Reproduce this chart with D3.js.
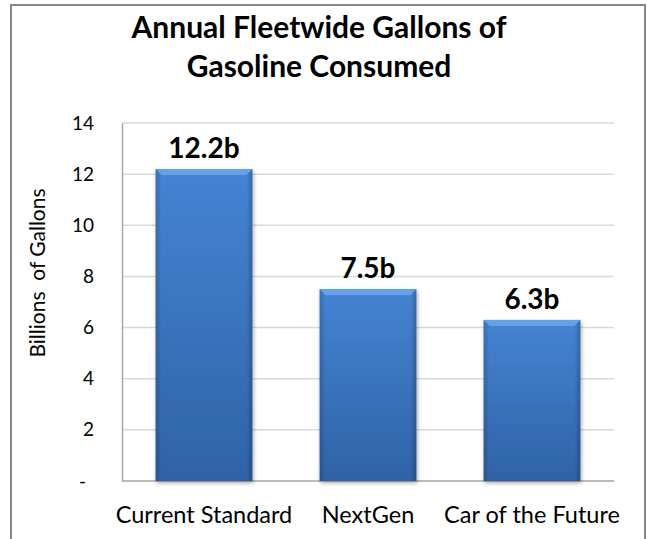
<!DOCTYPE html>
<html>
<head>
<meta charset="utf-8">
<script src="https://cdn.jsdelivr.net/npm/d3@7"></script>
<style>
  body { margin: 0; background: #fff; }
  text { font-family: Lato, "Open Sans", sans-serif; }
</style>
</head>
<body>
<script>
// chart data
var categories = ["Current Standard", "NextGen", "Car of the Future"];
var gallons = [12.2, 7.5, 6.3];
var valueLabels = ["12.2b", "7.5b", "6.3b"];
var yTicks = [0, 2, 4, 6, 8, 10, 12, 14];
var titleLines = ["Annual Fleetwide Gallons of", "Gasoline Consumed"];
var yTitle = "Billions\u00a0\u00a0of Gallons";

var w = 647, h = 539;
var plot = {left: 122, right: 614, top: 123, bottom: 481};

var svg = d3.select("body").append("svg")
  .attr("width", w).attr("height", h);

var defs = svg.append("defs");
var grad = defs.append("linearGradient").attr("id", "barGrad")
  .attr("x1", 0).attr("y1", 0).attr("x2", 0).attr("y2", 1);
grad.append("stop").attr("offset", "0%").attr("stop-color", "#4583d3");
grad.append("stop").attr("offset", "100%").attr("stop-color", "#2f63a6");

var side = defs.append("linearGradient").attr("id", "sideGrad")
  .attr("x1", 0).attr("y1", 0).attr("x2", 1).attr("y2", 0);
side.append("stop").attr("offset", "0%").attr("stop-color", "#000").attr("stop-opacity", 0.18);
side.append("stop").attr("offset", "6%").attr("stop-color", "#000").attr("stop-opacity", 0);
side.append("stop").attr("offset", "94%").attr("stop-color", "#000").attr("stop-opacity", 0);
side.append("stop").attr("offset", "100%").attr("stop-color", "#000").attr("stop-opacity", 0.22);

var shadow = defs.append("filter").attr("id", "shadow")
  .attr("x", "-20%").attr("y", "-20%").attr("width", "140%").attr("height", "140%");
shadow.append("feDropShadow").attr("dx", 1).attr("dy", 2)
  .attr("stdDeviation", 2).attr("flood-color", "#000").attr("flood-opacity", 0.35);

// outer frame
svg.append("rect")
  .attr("x", 11).attr("y", 5).attr("width", 634).attr("height", 545)
  .attr("fill", "#fff").attr("stroke", "#878787").attr("stroke-width", 2);

var x = d3.scaleBand().domain(categories)
  .range([plot.left, plot.right]).paddingInner(0.41).paddingOuter(0.205);
var y = d3.scaleLinear().domain([0, 14]).range([plot.bottom, plot.top]);

// gridlines
svg.append("g").selectAll("line").data(yTicks.filter(function(d) { return d > 0; }))
  .enter().append("line")
  .attr("x1", plot.left).attr("x2", plot.right)
  .attr("y1", function(d) { return y(d); }).attr("y2", function(d) { return y(d); })
  .attr("stroke", "#d9d9d9").attr("stroke-width", 1.5);

// y axis
var yAxis = svg.append("g")
  .attr("transform", "translate(" + plot.left + ",0)")
  .call(d3.axisLeft(y).tickValues(yTicks).tickSize(0).tickPadding(28)
    .tickFormat(function(d) { return d === 0 ? "-" : d; }));
yAxis.select(".domain").attr("stroke", "#a6a6a6").attr("stroke-width", 1.5);
yAxis.selectAll("text").attr("font-size", 19).attr("fill", "#000")
  .attr("font-family", "Lato, sans-serif");
yAxis.selectAll(".tick").filter(function(d) { return d === 0; }).select("text")
  .attr("dx", -8);

// baseline
svg.append("line")
  .attr("x1", plot.left).attr("x2", plot.right)
  .attr("y1", y(0)).attr("y2", y(0))
  .attr("stroke", "#a6a6a6").attr("stroke-width", 1.5);

// bars
var bars = svg.append("g").selectAll("g").data(gallons).enter().append("g")
  .attr("filter", "url(#shadow)");

bars.append("rect")
  .attr("x", function(d, i) { return x(categories[i]); })
  .attr("y", function(d) { return y(d); })
  .attr("width", x.bandwidth())
  .attr("height", function(d) { return y(0) - y(d); })
  .attr("fill", "url(#barGrad)");

bars.append("rect")
  .attr("x", function(d, i) { return x(categories[i]); })
  .attr("y", function(d) { return y(d); })
  .attr("width", x.bandwidth())
  .attr("height", function(d) { return y(0) - y(d); })
  .attr("fill", "url(#sideGrad)");

// top bevel
var bev = 6;
bars.append("path")
  .attr("d", function(d, i) {
    var x0 = x(categories[i]), x1 = x0 + x.bandwidth(), t = y(d);
    return "M" + x0 + "," + t + "L" + x1 + "," + t + "L" + (x1 - bev) + "," + (t + bev) +
      "L" + (x0 + bev) + "," + (t + bev) + "Z";
  })
  .attr("fill", "#66a0e6");

// value labels
svg.append("g").selectAll("text").data(gallons).enter().append("text")
  .attr("x", function(d, i) { return x(categories[i]) + x.bandwidth() / 2; })
  .attr("y", function(d) { return y(d) - 11; })
  .attr("text-anchor", "middle")
  .attr("font-size", 28).attr("font-weight", "bold")
  .text(function(d, i) { return valueLabels[i]; });

// category labels
svg.append("g").selectAll("text").data(categories).enter().append("text")
  .attr("x", function(d) { return x(d) + x.bandwidth() / 2; })
  .attr("y", 523)
  .attr("text-anchor", "middle")
  .attr("font-size", 23.5)
  .text(function(d) { return d; });

// axis title
svg.append("text")
  .attr("transform", "translate(45,273) rotate(-90)")
  .attr("text-anchor", "middle")
  .attr("font-size", 21)
  .text(yTitle);

// chart title
svg.append("g").selectAll("text").data(titleLines).enter().append("text")
  .attr("x", 319)
  .attr("y", function(d, i) { return 38 + i * 39; })
  .attr("text-anchor", "middle")
  .attr("font-size", 30).attr("font-weight", "bold")
  .text(function(d) { return d; });
</script>
</body>
</html>
